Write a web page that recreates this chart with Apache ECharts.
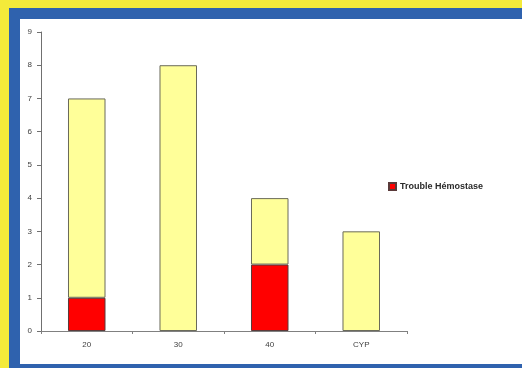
<!DOCTYPE html>
<html>
<head>
<meta charset="utf-8">
<script src="https://cdn.jsdelivr.net/npm/echarts@6/dist/echarts.min.js"></script>
<style>
  html, body { margin: 0; padding: 0; }
  body { width: 522px; height: 368px; background: #F4EA3A; position: relative; overflow: hidden; }
  #frame { position: absolute; left: 9px; top: 8px; right: 0; bottom: 0; background: #2F62AE; }
  #panel { position: absolute; left: 20px; top: 19px; width: 502px; height: 345px; background: #ffffff; }
  #chart { position: absolute; left: 0; top: 0; width: 522px; height: 368px; }
</style>
</head>
<body>
<div id="frame"></div>
<div id="panel"></div>
<div id="chart"></div>
<script>
// Groups along the x axis
const categories = ['20', '30', '40', 'CYP'];
// Stacked counts: bleeding disorder cases and remaining cases
const troubleHemostase = [1, 0, 2, 0];
const autres = [6, 8, 2, 3];
const legendName = 'Trouble Hémostase';

// Empty segments get no outline so they leave no stray line on the axis
const withOutline = (values) => values.map(v => v === 0 ? { value: v, itemStyle: { borderWidth: 0 } } : v);

const chart = echarts.init(document.getElementById('chart'), null, { renderer: 'canvas' });
const labelFont = { fontFamily: 'Liberation Sans, Arial, sans-serif', fontSize: 8, color: '#404040' };

chart.setOption({
  backgroundColor: 'transparent',
  animation: false,
  grid: { left: 41, top: 32, right: 115, bottom: 37, containLabel: false },
  legend: {
    data: [legendName],
    left: 383, top: 177,
    itemWidth: 7, itemHeight: 7, itemGap: 4,
    icon: 'rect',
    textStyle: { fontFamily: 'Liberation Sans, Arial, sans-serif', fontSize: 9, fontWeight: 'bold', color: '#2a2a2a', padding: [0, 0, 0, -1] }
  },
  xAxis: {
    type: 'category',
    data: categories,
    axisLine: { lineStyle: { color: '#808080', width: 1 } },
    axisTick: { show: true, inside: false, length: 3, alignWithLabel: false, lineStyle: { color: '#808080' } },
    axisLabel: Object.assign({ margin: 10 }, labelFont),
    splitLine: { show: false }
  },
  yAxis: {
    type: 'value',
    min: 0, max: 9, interval: 1,
    axisLine: { show: true, lineStyle: { color: '#707070', width: 1 } },
    axisTick: { show: true, length: 4, lineStyle: { color: '#707070' } },
    axisLabel: Object.assign({ margin: 9 }, labelFont),
    splitLine: { show: false }
  },
  series: [
    {
      name: legendName,
      type: 'bar',
      stack: 'total',
      data: withOutline(troubleHemostase),
      barWidth: '41%',
      itemStyle: { color: '#FF0000', borderColor: '#5a3a3a', borderWidth: 1 }
    },
    {
      name: 'Autres',
      type: 'bar',
      stack: 'total',
      data: withOutline(autres),
      barWidth: '41%',
      itemStyle: { color: '#FFFF99', borderColor: '#6a6a5a', borderWidth: 1 }
    }
  ]
});
</script>
</body>
</html>
